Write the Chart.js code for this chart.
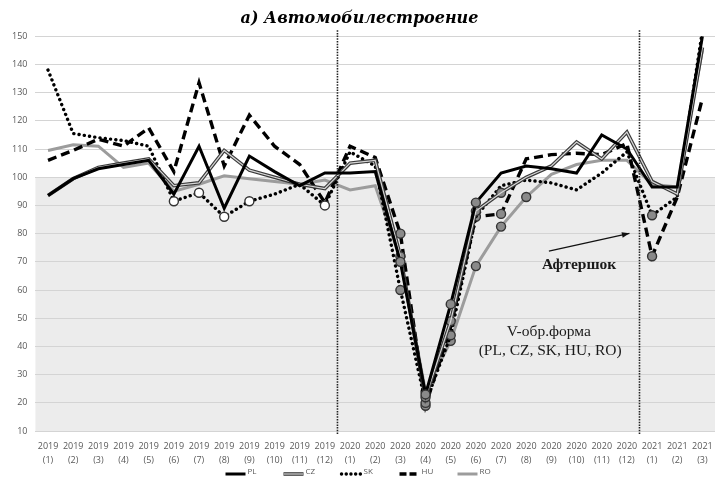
<!DOCTYPE html>
<html>
<head>
<meta charset="utf-8">
<script src="https://cdn.jsdelivr.net/npm/chart.js@4.4.1/dist/chart.umd.min.js"></script>
<style>
  html, body { margin: 0; padding: 0; background: #fff; }
  #wrap { width: 715px; height: 483px; }
</style>
</head>
<body>
<div id="wrap"><canvas id="chart" width="715" height="483"></canvas></div>
<script>
// tick labels (x axis, two rows)
const years = ["2019","2019","2019","2019","2019","2019","2019","2019","2019","2019","2019","2019",
               "2020","2020","2020","2020","2020","2020","2020","2020","2020","2020","2020","2020",
               "2021","2021","2021"]
const months = ["(1)","(2)","(3)","(4)","(5)","(6)","(7)","(8)","(9)","(10)","(11)","(12)",
                "(1)","(2)","(3)","(4)","(5)","(6)","(7)","(8)","(9)","(10)","(11)","(12)",
                "(1)","(2)","(3)"]

// series values (index)
const PL = [93.5, 99.5, 103, 104.5, 106, 94, 111, 89, 107.5, 102, 97, 101.5, 101.5, 102, 70, 23, 55, 91, 101.5, 104, 103, 101.5, 115, 110, 96.5, 96.5, 150]
const CZ = [93.5, 99.5, 103.5, 105, 106.5, 97, 98, 109.5, 102.5, 100, 97.5, 96, 105, 106, 72, 22, 49, 88, 94.5, 100, 104, 112.5, 106.5, 116, 98.5, 94, 146]
const SK = [138, 115.5, 114, 113, 111, 91.5, 94.5, 86, 91.5, 94, 97.5, 90, 109, 104, 60, 20, 44, 86, 97, 99, 98, 95.5, 101.5, 109, 86.5, 93, 152]
const HU = [106, 109.5, 113.5, 111, 117.5, 102, 133.5, 104, 122, 111, 104.5, 91, 111, 107, 80, 19, 47, 86, 87, 106.5, 108, 108.5, 108, 112, 72, 93, 128]
const RO = [109.5, 111.5, 111, 103.5, 105, 95, 97.5, 100.5, 99.5, 98.5, 97.5, 99, 95.5, 97, 71, 24, 42, 68.5, 82.5, 93, 101, 104.5, 106, 106, 97.5, 96.5, 145]

// which points carry a circle marker
const openMarks = { SK: [5, 6, 7, 8, 11] }
const grayMarks = {
  PL: [14, 15, 16, 17],
  CZ: [14, 15, 16, 17, 18],
  SK: [14, 15, 16, 24],
  HU: [14, 15, 17, 18, 24],
  RO: [15, 16, 17, 18, 19]
}

const labels = years.map((y, i) => [y, months[i]])

function markerRadius(name) {
  return ctx => {
    const i = ctx.dataIndex
    if ((openMarks[name] || []).includes(i) || (grayMarks[name] || []).includes(i)) return 4.5
    return 0
  }
}
function markerFill(name) {
  return ctx => (openMarks[name] || []).includes(ctx.dataIndex) ? "#ffffff" : "#8a8a8a"
}

const serif = "'Liberation Serif', 'DejaVu Serif', serif"
const sans = "'Open Sans', 'Liberation Sans', sans-serif"

// decimal category -> pixel
function catPx(x, v) {
  const i = Math.floor(v)
  const a = x.getPixelForValue(i)
  const b = x.getPixelForValue(Math.min(i + 1, labels.length - 1))
  return a + (b - a) * (v - i)
}

// legend entries drawn by hand (line samples like the original)
const legendItems = [
  { text: "PL", color: "#000", width: 3, dash: [] },
  { text: "CZ", color: "#3a3a3a", width: 3.6, dash: [], inner: "#d6d6d6" },
  { text: "SK", color: "#000", width: 3.4, dash: [0.1, 4.6], cap: "round" },
  { text: "HU", color: "#000", width: 3.4, dash: [7, 3] },
  { text: "RO", color: "#9c9c9c", width: 3, dash: [] }
]

const decor = {
  id: "decor",
  beforeDraw(chart) {
    const { ctx, chartArea, scales: { y } } = chart
    const y100 = y.getPixelForValue(100)
    ctx.save()
    ctx.fillStyle = "#ececec"
    ctx.fillRect(chartArea.left, y100, chartArea.right - chartArea.left, chartArea.bottom - y100)
    ctx.restore()
  },
  afterDatasetsDraw(chart) {
    const { ctx, chartArea, scales: { x, y } } = chart
    ctx.save()
    // vertical separators between years
    ctx.strokeStyle = "#222"
    ctx.lineWidth = 1.6
    ctx.setLineDash([1.5, 1.2])
    ;[11.5, 23.5].forEach(v => {
      const px = catPx(x, v)
      ctx.beginPath()
      ctx.moveTo(px, chartArea.top - 6)
      ctx.lineTo(px, chartArea.bottom + 3)
      ctx.stroke()
    })
    ctx.setLineDash([])

    // arrow to the aftershock
    const x0 = catPx(x, 19.9), y0 = y.getPixelForValue(73.8)
    const x1 = catPx(x, 23.1), y1 = y.getPixelForValue(80.1)
    ctx.strokeStyle = "#111"
    ctx.lineWidth = 1.2
    ctx.beginPath()
    ctx.moveTo(x0, y0)
    ctx.lineTo(x1, y1)
    ctx.stroke()
    const ang = Math.atan2(y1 - y0, x1 - x0)
    ctx.fillStyle = "#111"
    ctx.beginPath()
    ctx.moveTo(x1, y1)
    ctx.lineTo(x1 - 8 * Math.cos(ang - 0.35), y1 - 8 * Math.sin(ang - 0.35))
    ctx.lineTo(x1 - 8 * Math.cos(ang + 0.35), y1 - 8 * Math.sin(ang + 0.35))
    ctx.closePath()
    ctx.fill()

    ctx.textAlign = "center"
    ctx.textBaseline = "middle"
    ctx.fillStyle = "#1a1a1a"
    ctx.font = "bold 15.5px " + serif
    ctx.fillText("Афтершок", catPx(x, 21.1), y.getPixelForValue(68.8))
    ctx.font = "15.5px " + serif
    ctx.fillText("V-обр.форма", catPx(x, 19.9), y.getPixelForValue(45))
    ctx.fillText("(PL, CZ, SK, HU, RO)", catPx(x, 19.95), y.getPixelForValue(38.3))
    ctx.restore()
  },
  afterDraw(chart) {
    const { ctx, width, height } = chart
    const step = 58, lineW = 20
    let left = width / 2 - (step * (legendItems.length - 1) + lineW + 12) / 2
    const cy = height - 9
    ctx.save()
    ctx.font = "8px " + sans
    ctx.textBaseline = "middle"
    ctx.textAlign = "left"
    legendItems.forEach((it, k) => {
      const lx = left + k * step
      ctx.strokeStyle = it.color
      ctx.lineWidth = it.width
      ctx.lineCap = it.cap || "butt"
      ctx.setLineDash(it.dash)
      ctx.beginPath()
      ctx.moveTo(lx, cy)
      ctx.lineTo(lx + lineW, cy)
      ctx.stroke()
      if (it.inner) {
        ctx.setLineDash([])
        ctx.strokeStyle = it.inner
        ctx.lineWidth = 1.2
        ctx.beginPath()
        ctx.moveTo(lx + 0.5, cy)
        ctx.lineTo(lx + lineW - 0.5, cy)
        ctx.stroke()
      }
      ctx.setLineDash([])
      ctx.fillStyle = "#595959"
      ctx.fillText(it.text, lx + lineW + 2, cy - 2)
    })
    ctx.restore()
  }
}

const common = {
  fill: false,
  tension: 0,
  pointBorderColor: "#333",
  pointBorderWidth: 1.4,
  pointHoverRadius: 0
}

new Chart(document.getElementById("chart"), {
  type: "line",
  data: {
    labels: labels,
    datasets: [
      { ...common, label: "PL", data: PL, borderColor: "#000", borderWidth: 3,
        pointRadius: markerRadius("PL"), pointBackgroundColor: markerFill("PL") },
      { ...common, label: "CZ-inner", data: CZ, borderColor: "#d6d6d6", borderWidth: 1.2, pointRadius: 0 },
      { ...common, label: "CZ", data: CZ, borderColor: "#3a3a3a", borderWidth: 3.6,
        pointRadius: markerRadius("CZ"), pointBackgroundColor: markerFill("CZ") },
      { ...common, label: "SK", data: SK, borderColor: "#000", borderWidth: 3.4,
        borderDash: [0.1, 5.2], borderCapStyle: "round",
        pointRadius: markerRadius("SK"), pointBackgroundColor: markerFill("SK") },
      { ...common, label: "HU", data: HU, borderColor: "#000", borderWidth: 3.4,
        borderDash: [9, 5],
        pointRadius: markerRadius("HU"), pointBackgroundColor: markerFill("HU") },
      { ...common, label: "RO", data: RO, borderColor: "#9c9c9c", borderWidth: 3,
        pointRadius: markerRadius("RO"), pointBackgroundColor: markerFill("RO") }
    ]
  },
  options: {
    responsive: false,
    animation: false,
    layout: { padding: { left: 4, right: 0, top: 0, bottom: 16 } },
    scales: {
      x: {
        offset: true,
        grid: { display: false },
        border: { display: false },
        ticks: {
          color: "#595959",
          font: { family: sans, size: 9, lineHeight: 1.55 },
          maxRotation: 0,
          autoSkip: false,
          padding: 0
        }
      },
      y: {
        min: 10,
        max: 150,
        grid: { color: "#d4d4d4", lineWidth: 1, drawTicks: false },
        border: { display: false },
        ticks: {
          stepSize: 10,
          color: "#595959",
          font: { family: sans, size: 9 },
          padding: 8
        }
      }
    },
    plugins: {
      title: {
        display: true,
        text: "а) Автомобилестроение",
        color: "#000",
        font: { family: "'DejaVu Serif', serif", size: 16, weight: "bold", style: "italic" },
        padding: { top: 9, bottom: 8 }
      },
      legend: { display: false },
      tooltip: { enabled: false }
    }
  },
  plugins: [decor]
})
</script>
</body>
</html>
